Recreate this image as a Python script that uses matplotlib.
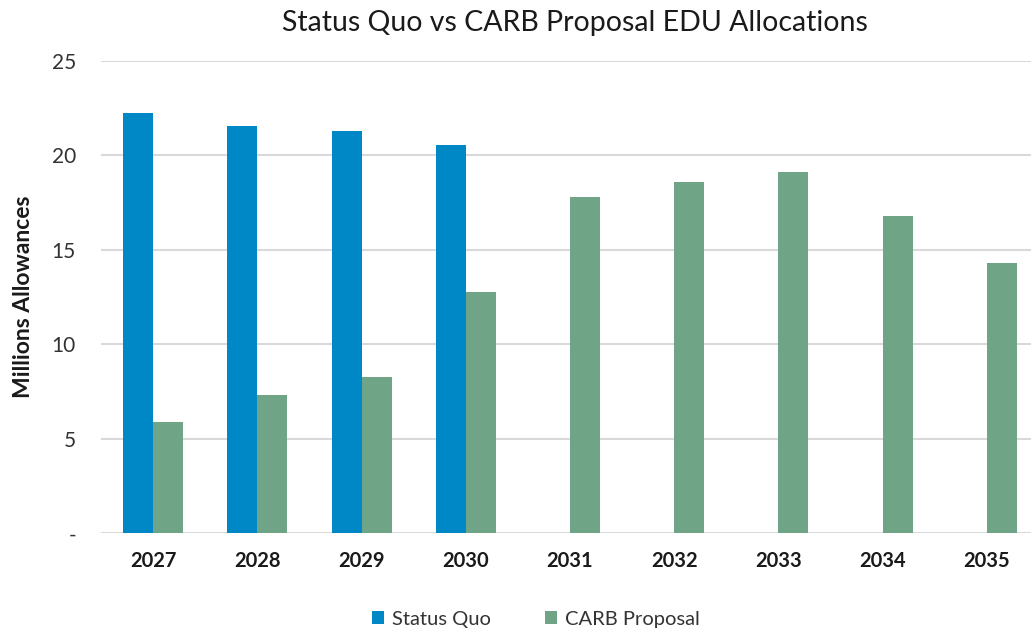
import matplotlib
matplotlib.use("Agg")
import matplotlib.pyplot as plt
import numpy as np

years = ["2027", "2028", "2029", "2030", "2031", "2032", "2033", "2034", "2035"]
status_quo = [22.27, 21.58, 21.27, 20.58, 0, 0, 0, 0, 0]
carb_proposal = [5.87, 7.31, 8.27, 12.75, 17.78, 18.57, 19.15, 16.82, 14.29]
series_names = ["Status Quo", "CARB Proposal"]
ytick_vals = [0, 5, 10, 15, 20, 25]
ytick_labels = ["-", "5", "10", "15", "20", "25"]

plt.rcParams['font.family'] = ['Lato', 'DejaVu Sans']

W, H = 1031, 633
fig = plt.figure(figsize=(W / 100, H / 100), dpi=100)
left, right, top, bottom = 101, 1039, 61, 533.3
ax = fig.add_axes([left / W, 1 - bottom / H, (right - left) / W, (bottom - top) / H])

x = np.arange(len(years))
bw = 0.288
sq = [v if v > 0 else np.nan for v in status_quo]
ax.bar(x - bw / 2, sq, bw, color="#0087C5", label=series_names[0], zorder=3)
ax.bar(x + bw / 2, carb_proposal, bw, color="#6FA487", label=series_names[1], zorder=3)

ax.set_xlim(-0.5, len(years) - 0.5)
ax.set_ylim(0, 25)
ax.set_yticks(ytick_vals)
ax.set_yticklabels(ytick_labels, fontsize=15, color="#333333")
ax.set_xticks(x)
ax.set_xticklabels(years, fontsize=14.5, fontweight="bold", color="#1a1a1a")
ax.tick_params(axis="both", length=0)
ax.tick_params(axis="y", pad=18)
ax.tick_params(axis="x", pad=13)
ax.grid(axis="y", color="#D9D9D9", linewidth=1.5, zorder=0)
for s in ax.spines.values():
    s.set_visible(False)

ax.set_ylabel("Millions Allowances", fontsize=16.5, fontweight="bold", color="#1a1a1a")
ax.yaxis.set_label_coords((34 - left) / (right - left), 0.5)

fig.text(575 / W, 1 - 23 / H, "Status Quo vs CARB Proposal EDU Allocations",
         ha="center", va="center", fontsize=20.5, color="#1a1a1a")

leg = fig.legend(loc="center", bbox_to_anchor=(536 / W, 1 - 619 / H), ncol=2,
                 frameon=False, fontsize=14.5, handlelength=0.6, handleheight=0.6,
                 columnspacing=2.7, handletextpad=0.4)
for t in leg.get_texts():
    t.set_color("#333333")

fig.savefig("out.png", dpi=100)
